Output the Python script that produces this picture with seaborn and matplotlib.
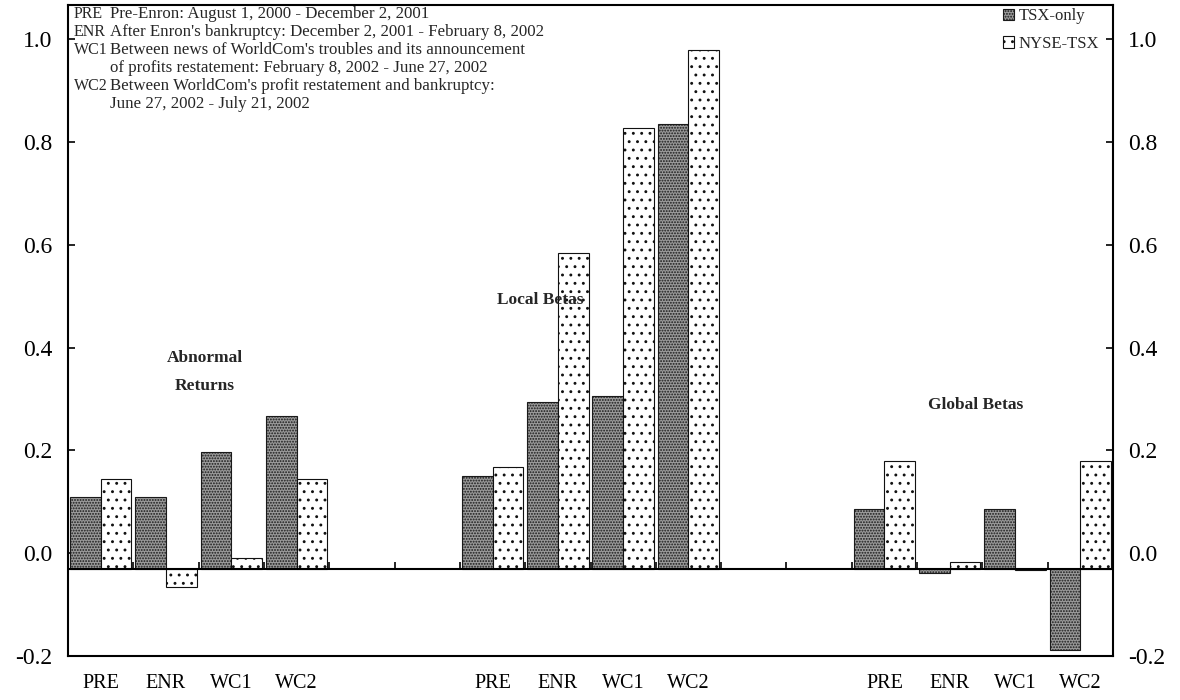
import numpy as np
import pandas as pd
import matplotlib
matplotlib.use("Agg")
import matplotlib.pyplot as plt
import seaborn as sns
from matplotlib.patches import Patch

# ---------------- data ----------------
periods = ["PRE", "ENR", "WC1", "WC2"]
groups = ["Abnormal Returns", "Local Betas", "Global Betas"]
series = ["TSX-only", "NYSE-TSX"]

abn_tsx = [0.110, 0.110, 0.197, 0.267]
abn_nyse = [0.145, -0.066, -0.009, 0.145]
loc_tsx = [0.150, 0.295, 0.306, 0.835]
loc_nyse = [0.167, 0.584, 0.828, 0.980]
glb_tsx = [0.087, -0.038, 0.087, -0.188]
glb_nyse = [0.179, -0.017, -0.032, 0.179]

baseline = -0.03
yticks = [-0.2, 0.0, 0.2, 0.4, 0.6, 0.8, 1.0]

note_codes = ["PRE", "ENR", "WC1", "", "WC2", ""]
note_texts = [
    "Pre-Enron: August 1, 2000 - December 2, 2001",
    "After Enron's bankruptcy: December 2, 2001 - February 8, 2002",
    "Between news of WorldCom's troubles and its announcement",
    "of profits restatement: February 8, 2002 - June 27, 2002",
    "Between WorldCom's profit restatement and bankruptcy:",
    "June 27, 2002 - July 21, 2002",
]

# ---------------- table ----------------
values = {
    ("Abnormal Returns", "TSX-only"): abn_tsx,
    ("Abnormal Returns", "NYSE-TSX"): abn_nyse,
    ("Local Betas", "TSX-only"): loc_tsx,
    ("Local Betas", "NYSE-TSX"): loc_nyse,
    ("Global Betas", "TSX-only"): glb_tsx,
    ("Global Betas", "NYSE-TSX"): glb_nyse,
}
order = []
for gi, g in enumerate(groups):
    order += [f"{g}|{p}" for p in periods]
    if gi < len(groups) - 1:
        order += [f"gap{gi}a", f"gap{gi}b"]

rows = []
for g in groups:
    for s in series:
        for p, v in zip(periods, values[(g, s)]):
            rows.append({"slot": f"{g}|{p}", "series": s, "value": v})
df = pd.DataFrame(rows)

# ---------------- style ----------------
sns.set_theme(style="white")
plt.rcParams["font.family"] = ["Liberation Serif", "DejaVu Serif"]
plt.rcParams["axes.unicode_minus"] = False
plt.rcParams["hatch.linewidth"] = 0.9

fig = plt.figure(figsize=(11.8, 7.0), dpi=100)
ax = fig.add_axes([68 / 1180, 44 / 700, 1045 / 1180, 651 / 700])

sns.barplot(data=df, x="slot", y="value", hue="series", order=order,
            hue_order=series, width=0.94, dodge=True, errorbar=None,
            legend=False, ax=ax, color="white")

styles = {
    "TSX-only": dict(facecolor="#9a9a9a", hatch="......", edgecolor="#1a1a1a"),
    "NYSE-TSX": dict(facecolor="white", hatch="..", edgecolor="#111111"),
}
for cont, s in zip(ax.containers, series):
    for rect in cont:
        v = rect.get_y() + rect.get_height()
        rect.set_y(baseline)
        rect.set_height(v - baseline)
        rect.set_facecolor(styles[s]["facecolor"])
        rect.set_edgecolor(styles[s]["edgecolor"])
        rect.set_hatch(styles[s]["hatch"])
        rect.set_linewidth(0.8)

# baseline and slot-boundary ticks
ax.axhline(baseline, color="black", lw=1.5, zorder=5)
ax.vlines(np.arange(1, len(order)) - 0.5, baseline, baseline + 0.013,
          colors="black", lw=1.2, zorder=5)

ax.set_xlim(-0.5, len(order) - 0.5)
ax.set_ylim(-0.2, 1.067)
ax.set_yticks(yticks)
ax.set_yticklabels([f"{t:.1f}" for t in yticks])
ax.tick_params(axis="y", direction="in", length=5, width=1.2, labelsize=17,
               left=True, right=True, labelleft=True, labelright=True,
               pad=11, colors="black")
xpos = [order.index(f"{g}|{p}") for g in groups for p in periods]
ax.set_xticks(xpos)
ax.set_xticklabels(periods * len(groups))
ax.tick_params(axis="x", length=0, labelsize=14.5, pad=13, colors="black")
ax.set_xlabel("")
ax.set_ylabel("")
for sp in ax.spines.values():
    sp.set_visible(True)
    sp.set_color("black")
    sp.set_linewidth(1.5)

# group titles
ax.text(1.6, 0.38, "Abnormal", ha="center", va="center", fontsize=12.5, fontweight="bold")
ax.text(1.6, 0.325, "Returns", ha="center", va="center", fontsize=12.5, fontweight="bold")
ax.text(6.73, 0.493, "Local Betas", ha="center", va="center", fontsize=12.5, fontweight="bold")
ax.text(13.4, 0.288, "Global Betas", ha="center", va="center", fontsize=12.5, fontweight="bold")

# notes
for i, (c, t) in enumerate(zip(note_codes, note_texts)):
    y = 1 - (14 + 18 * i) / 700
    if c:
        fig.text(74 / 1180, y, c, ha="left", va="center", fontsize=11.5)
    fig.text(110 / 1180, y, t, ha="left", va="center", fontsize=12.2)

# legend
handles = [Patch(facecolor=styles[s]["facecolor"], edgecolor=styles[s]["edgecolor"],
                 hatch=styles[s]["hatch"], linewidth=0.8, label=s) for s in series]
ax.legend(handles=handles, loc="upper right", bbox_to_anchor=(0.9865, 0.995),
          frameon=False, fontsize=12, handlelength=0.7, handleheight=0.7,
          handletextpad=0.25, borderaxespad=0.0, borderpad=0.0, labelspacing=0.7)

fig.savefig("out.png", dpi=100)
